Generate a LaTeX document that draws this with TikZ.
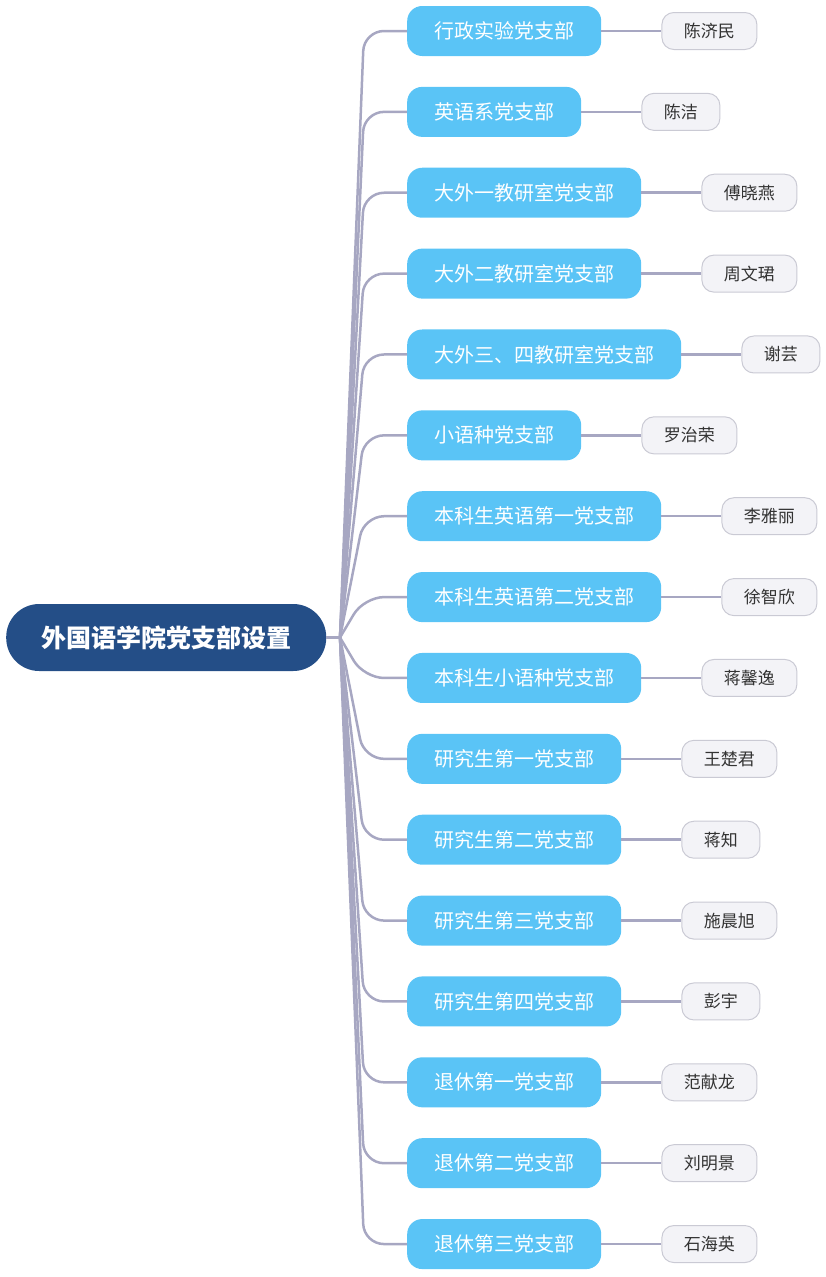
\documentclass[tikz,border=0pt]{standalone}
\usepackage{fontspec}
\setmainfont{Noto Sans CJK SC}
\usetikzlibrary{positioning}
\definecolor{rootc}{HTML}{244E87}
\definecolor{branchc}{HTML}{5AC4F6}
\definecolor{leafc}{HTML}{F3F3F7}
\definecolor{leafd}{HTML}{CACAD4}
\definecolor{leaftext}{HTML}{333333}
\definecolor{linec}{HTML}{A7A7C2}
\begin{document}
\begin{tikzpicture}[x=1pt,y=-1pt,
  rootbox/.style={fill=rootc, text=white, rounded corners=33pt, minimum height=67pt,
    inner xsep=35pt, inner ysep=0pt, text height=20.75pt, text depth=1.75pt,
    font=\fontsize{25}{25}\selectfont\bfseries, anchor=west},
  branchbox/.style={fill=branchc, text=white, rounded corners=15pt, minimum height=50pt,
    inner xsep=27pt, inner ysep=0pt, text height=16.6pt, text depth=1.4pt,
    font=\fontsize{20}{20}\selectfont, anchor=west},
  leafbox/.style={fill=leafc, draw=leafd, line width=1pt, rounded corners=12pt,
    minimum height=37pt, inner xsep=22pt, inner ysep=0pt, text height=14.1pt,
    text depth=1.2pt, font=\fontsize{17}{17}\selectfont, text=leaftext},
  conn/.style={draw=linec, line width=2.5pt, rounded corners=20pt},
  link/.style={draw=linec, line width=2.5pt}]
\useasboundingbox (0,0) rectangle (825,1277);
\node[rootbox] (root) at (6,637.5) {外国语学院党支部设置};
\coordinate (hub) at (340,637.5);
\draw[link] (root.east) -- (hub);
\foreach \i/\b/\l in {0/行政实验党支部/陈济民, 1/英语系党支部/陈洁, 2/大外一教研室党支部/傅晓燕,
  3/大外二教研室党支部/周文珺, 4/大外三、四教研室党支部/谢芸, 5/小语种党支部/罗治荣,
  6/本科生英语第一党支部/李雅丽, 7/本科生英语第二党支部/徐智欣, 8/本科生小语种党支部/蒋馨逸,
  9/研究生第一党支部/王楚君, 10/研究生第二党支部/蒋知, 11/研究生第三党支部/施晨旭,
  12/研究生第四党支部/彭宇, 13/退休第一党支部/范献龙, 14/退休第二党支部/刘明景,
  15/退休第三党支部/石海英} {
  \pgfmathsetmacro\yy{31+80.87*\i}
  \node[branchbox] (b\i) at (407,\yy) {\b};
  \node[leafbox, right=60pt of b\i] (l\i) {\l};
  \draw[conn] (hub) -- (364,\yy) -- (b\i.west);
  \draw[link] (b\i.east) -- (l\i.west);
}
\end{tikzpicture}
\end{document}
